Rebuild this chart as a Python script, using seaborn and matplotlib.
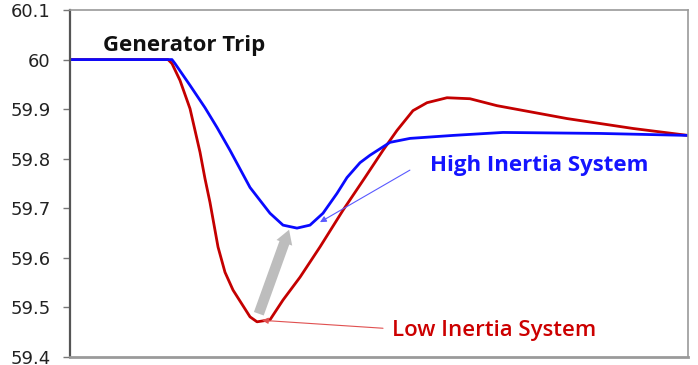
import numpy as np
import pandas as pd
import seaborn as sns
import matplotlib.pyplot as plt

# time (arbitrary units) and frequency (Hz)
high_t = [0, 1.650, 1.699, 1.942, 2.184, 2.379, 2.589, 2.913, 3.236, 3.447,
          3.673, 3.883, 4.094, 4.320, 4.482, 4.693, 4.854, 5.178, 5.502,
          6.197, 7.006, 8.576, 10.0]
high_f = [60.0, 60.0, 59.992, 59.948, 59.903, 59.863, 59.817, 59.742, 59.690,
          59.666, 59.660, 59.666, 59.690, 59.730, 59.762, 59.792, 59.807,
          59.833, 59.841, 59.847, 59.853, 59.851, 59.847]

low_t = [0, 1.586, 1.650, 1.780, 1.942, 2.104, 2.184, 2.265, 2.395, 2.508,
         2.638, 2.913, 3.026, 3.236, 3.447, 3.722, 4.045, 4.417, 4.773, 5.065,
         5.291, 5.550, 5.777, 6.100, 6.472, 6.909, 8.042, 9.110, 10.0]
low_f = [60.0, 60.0, 59.992, 59.958, 59.901, 59.813, 59.760, 59.712, 59.622,
         59.571, 59.535, 59.481, 59.471, 59.475, 59.515, 59.561, 59.622,
         59.696, 59.762, 59.817, 59.857, 59.897, 59.913, 59.923, 59.921,
         59.907, 59.881, 59.861, 59.847]

yticks = [59.4, 59.5, 59.6, 59.7, 59.8, 59.9, 60.0, 60.1]
yticklabels = ['59.4', '59.5', '59.6', '59.7', '59.8', '59.9', '60', '60.1']

df = pd.concat([
    pd.DataFrame({'t': high_t, 'f': high_f, 'system': 'High'}),
    pd.DataFrame({'t': low_t, 'f': low_f, 'system': 'Low'}),
])

sns.set_style('white')
plt.rcParams['font.family'] = ['Open Sans', 'DejaVu Sans']

fig = plt.figure(figsize=(6.98, 3.65), dpi=100)
ax = fig.add_axes([70 / 698, 8 / 365, 618 / 698, 347 / 365])

sns.lineplot(data=df, x='t', y='f', hue='system',
             palette={'High': '#0a0aff', 'Low': '#c40000'},
             hue_order=['Low', 'High'], lw=2.0, legend=False, ax=ax,
             estimator=None, sort=False)
for ln in ax.get_lines():
    ln.set_solid_joinstyle('round')

ax.set_xlim(0, 10)
ax.set_ylim(59.4, 60.1)
ax.set_yticks(yticks)
ax.set_yticklabels(yticklabels, family='DejaVu Sans', fontsize=13, color='#222222')
ax.set_xticks([])
ax.set_xlabel('')
ax.set_ylabel('')
ax.tick_params(axis='y', direction='out', length=5, width=1, color='#777777', pad=9,
               left=True)

for side in ['top', 'right', 'bottom']:
    ax.spines[side].set_color('#9a9a9a')
    ax.spines[side].set_linewidth(1.2)
ax.spines['left'].set_color('#555555')
ax.spines['left'].set_linewidth(1.6)
ax.spines['bottom'].set_linewidth(2)

# gray "improvement" arrow
ax.annotate('', xy=(3.56, 59.662), xytext=(3.04, 59.482),
            arrowprops=dict(arrowstyle='simple,head_width=1.2,head_length=1.0,tail_width=0.75',
                            color='#bdbdbd', lw=0))

ax.text(0.534, 60.028, 'Generator Trip', fontsize=16, fontweight='bold',
        color='#111111', va='center')

ax.text(5.825, 59.787, 'High Inertia System', fontsize=16, fontweight='bold',
        color='#1414ff', va='center')
ax.annotate('', xy=(4.045, 59.672), xytext=(5.50, 59.777),
            arrowprops=dict(arrowstyle='-|>', color='#5a5aff', lw=0.8,
                            shrinkA=0, shrinkB=0, mutation_scale=9))

ax.text(5.21, 59.454, 'Low Inertia System', fontsize=16, fontweight='semibold',
        color='#cc0000', va='center')
ax.annotate('', xy=(3.107, 59.474), xytext=(5.065, 59.458),
            arrowprops=dict(arrowstyle='-|>', color='#e05050', lw=0.8,
                            shrinkA=0, shrinkB=0, mutation_scale=9))

fig.savefig('out.png', dpi=100)
